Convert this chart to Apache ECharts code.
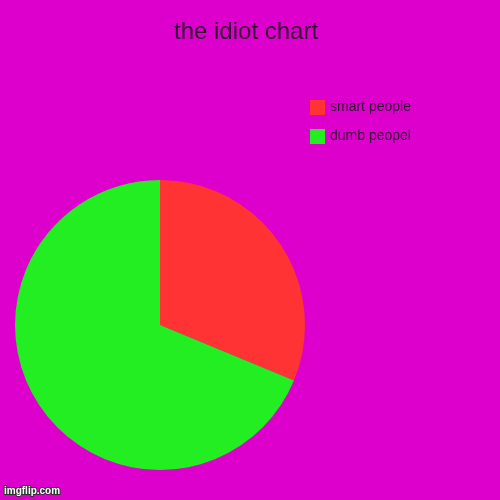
<!DOCTYPE html>
<html>
<head>
<meta charset="utf-8">
<script src="https://cdn.jsdelivr.net/npm/echarts@6/dist/echarts.min.js"></script>
<style>
html, body { margin: 0; padding: 0; background: #dd00cc; }
#chart { width: 500px; height: 500px; }
</style>
</head>
<body>
<div id="chart"></div>
<script>
var names = ['smart people', 'dumb peopel'];
var values = [5, 11];
var colors = ['#ff3333', '#22ee22'];

var myChart = echarts.init(document.querySelector('#chart'));

var option = {
	backgroundColor: '#dd00cc',
	animation: false,
	title: {
		text: 'the idiot chart',
		left: 169,
		top: 15,
		textStyle: {
			fontFamily: 'Liberation Sans',
			fontWeight: 'normal',
			color: '#331133',
			fontSize: 24
		}
	},
	legend: {
		orient: 'vertical',
		left: 305,
		top: 95,
		itemWidth: 15,
		itemHeight: 15,
		itemGap: 14,
		icon: 'rect',
		data: names,
		textStyle: {
			fontFamily: 'Liberation Sans',
			color: '#331133',
			fontSize: 14
		}
	},
	color: colors,
	graphic: [{
		type: 'text',
		left: 3,
		top: 485,
		style: {
			text: 'imgflip.com',
			fill: '#ffffff',
			stroke: '#333333',
			lineWidth: 2,
			font: 'bold 10px Liberation Sans'
		}
	}],
	series: [{
		type: 'pie',
		center: [160, 325],
		radius: 145,
		startAngle: 90,
		clockwise: true,
		label: { show: false },
		labelLine: { show: false },
		emphasis: { disabled: true },
		itemStyle: { borderWidth: 0 },
		data: names.map(function (n, i) {
			return { name: n, value: values[i] };
		})
	}]
};

myChart.setOption(option);
</script>
</body>
</html>
